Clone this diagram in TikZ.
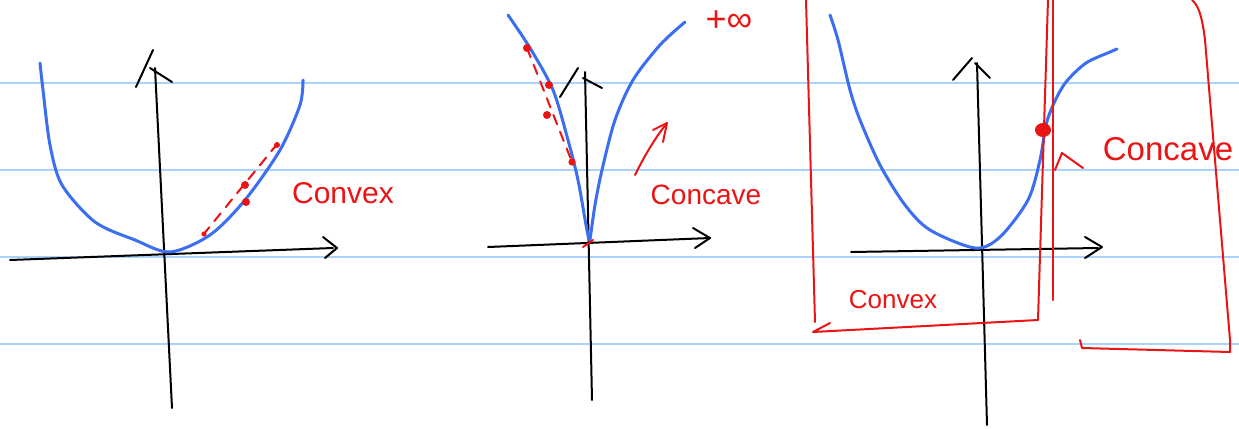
\documentclass[tikz,border=0pt]{standalone}
\usepackage{fontspec}
\setmainfont{Liberation Sans}
\definecolor{rulec}{RGB}{170,210,250}
\definecolor{penc}{RGB}{60,110,240}
\definecolor{inkc}{RGB}{235,20,20}
\begin{document}
\begin{tikzpicture}[x=0.5pt,y=-0.5pt,line cap=round,line join=round,
  ruling/.style={rulec,line width=1pt},
  curve/.style={penc,line width=1.5pt},
  axis/.style={black,line width=1pt},
  redline/.style={inkc,line width=1pt},
  reddash/.style={inkc,line width=1pt,dash pattern=on 5pt off 4pt},
  lbl/.style={inkc,inner sep=0pt}]
\useasboundingbox (0,0) rectangle (1239,429);
\fill[white] (0,0) rectangle (1239,429);
\foreach \yy in {83,170,257,344} \draw[ruling] (0,\yy) -- (1239,\yy);

% ---------- plot 1 ----------
\draw[axis] (10,260) -- (333,248);
\draw[axis] (323,237) -- (337,248) -- (325,258);
\draw[axis] (172,408) -- (155,68);
\draw[axis] (136,87) -- (153,50);
\draw[axis] (150,68) -- (172,82);
\draw[curve] plot[smooth] coordinates {(40,63) (43,90) (50,145) (62,185) (95,222) (135,240) (170,252) (210,235) (245,200) (280,150) (300,105) (303,80)};
\draw[reddash] (203,235) -- (278,143);
\fill[inkc] (245,185) circle (2pt);
\fill[inkc] (246,202) circle (2pt);
\fill[inkc] (204,234) circle (1.3pt);
\fill[inkc] (277,145) circle (1.5pt);
\node[lbl,font=\fontsize{15}{15}\selectfont] (cvx1) at (343,193) {Convex};

% ---------- plot 2 ----------
\draw[axis] (488,247) -- (710,238);
\draw[axis] (693,228) -- (710,238) -- (695,248);
\draw[axis] (592,400) -- (585,72);
\draw[axis] (560,97) -- (578,68);
\draw[axis] (583,78) -- (602,88);
\draw[curve] plot[smooth] coordinates {(508,15) (530,48) (553,90) (568,140) (578,180) (586,225) (589,240)};
\draw[curve] plot[smooth] coordinates {(590,240) (595,205) (602,170) (615,120) (633,80) (660,45) (685,22)};
\draw[reddash] (527,48) -- (572,162);
\fill[inkc] (527,48) circle (2pt);
\fill[inkc] (549,85) circle (2pt);
\fill[inkc] (547,115) circle (2pt);
\fill[inkc] (572,162) circle (1.8pt);
\draw[redline] (583,247) -- (593,240);
\draw[redline] (635,175) .. controls (645,155) and (655,138) .. (667,123);
\draw[redline] (653,130) -- (667,123) -- (663,142);
\node[lbl,font=\fontsize{14}{14}\selectfont] (ccv2) at (706,195) {Concave};
\node[lbl,font=\fontsize{18}{18}\selectfont] (inf2) at (729,21) {+∞};

% ---------- plot 3 ----------
\draw[axis] (851,252) -- (1098,248);
\draw[axis] (1085,237) -- (1102,247) -- (1085,258);
\draw[axis] (987,425) -- (977,63);
\draw[axis] (953,80) -- (972,58);
\draw[axis] (975,63) -- (990,78);
\draw[curve] plot[smooth] coordinates {(830,15) (838,40) (850,90) (860,120) (880,165) (905,205) (930,230) (975,248) (1000,237) (1028,200) (1040,160) (1046,125) (1054,103) (1066,82) (1086,63) (1110,52) (1117,49)};
\fill[inkc] (1043,130) ellipse (4pt and 3.5pt);
% convex bracket
\draw[redline] (806,0) -- (815,322);
\draw[redline] (830,323) -- (813,332) -- (1038,320) -- (1048,0);
% concave bracket
\draw[redline] (1053,0) -- (1053,300);
\draw[redline] (1080,340) -- (1082,348) -- (1230,352) -- (1230,340) -- (1205,40) .. controls (1202,15) and (1198,5) .. (1192,0);
\draw[redline] (1055,170) -- (1062,153) -- (1083,168);
\node[lbl,font=\fontsize{16.5}{16.5}\selectfont] (ccv3) at (1168,149) {Concave};
\node[lbl,font=\fontsize{13}{13}\selectfont] (cvx3) at (893,300) {Convex};
\end{tikzpicture}
\end{document}
